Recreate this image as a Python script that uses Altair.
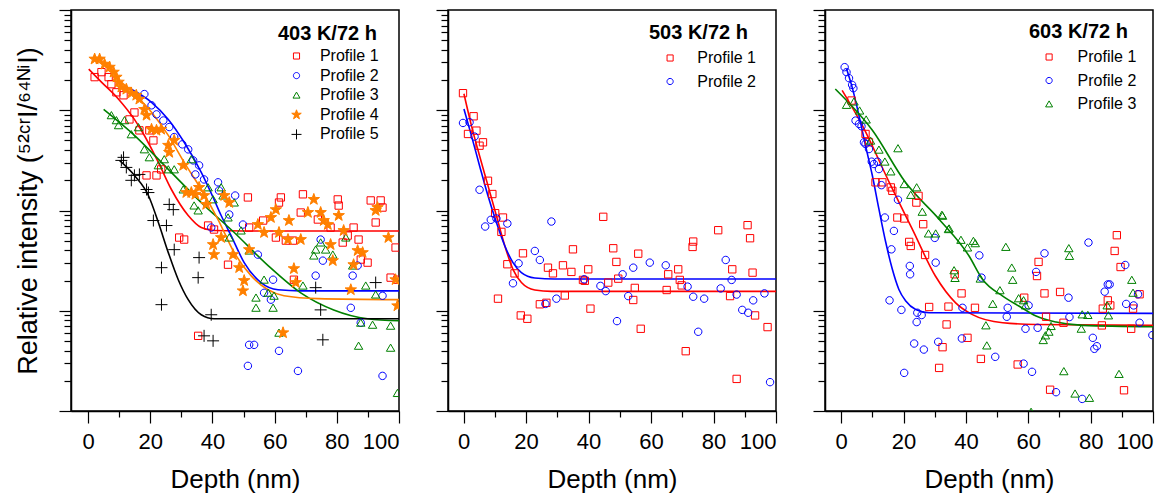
import altair as alt
import pandas as pd

# ---------------- data ----------------
# 403 K / 72 h
a_p1_x = [2.1, 4.3, 6.6, 7.5, 9.1, 11.4, 13.3, 14.9, 16.5, 19.7, 21.0, 18.8, 22.0, 23.5, 29.3, 30.9, 35.4, 38.6, 40.5, 45.0, 51.4, 51.8, 56.3, 60.4, 61.4, 62.0, 63.6, 65.9, 66.2, 69.1, 68.4, 73.9, 78.0, 80.3, 80.6, 81.9, 83.5, 85.4, 87.0, 87.7, 89.9, 90.9, 92.5, 94.1, 94.7, 97.3, 98.9, 99.5]
a_p1_y = [2.14, 2.40, 2.14, 1.82, 1.51, 1.41, 0.81, 0.95, 0.63, 0.63, 0.50, 0.224, 0.224, 0.257, 0.0537, 0.0513, 0.00562, 0.0708, 0.0646, 0.0288, 0.135, 0.0676, 0.0794, 0.0537, 0.120, 0.135, 0.0501, 0.0501, 0.0204, 0.145, 0.0955, 0.0813, 0.0676, 0.129, 0.112, 0.0479, 0.0562, 0.0676, 0.0513, 0.0324, 0.0302, 0.126, 0.0759, 0.126, 0.107, 0.0214, 0.0427, 0.0204]
a_p2_x = [18.1, 20.4, 22.0, 24.2, 26.1, 27.7, 30.3, 32.2, 33.8, 35.7, 34.5, 37.3, 41.8, 42.1, 47.3, 45.4, 39.6, 49.8, 54.6, 59.5, 56.6, 58.8, 74.8, 75.5, 73.2, 85.1, 86.7, 84.5, 87.7, 94.7, 51.8, 53.4, 51.4, 61.4, 67.5, 94.7]
a_p2_y = [1.45, 1.12, 0.91, 0.79, 0.68, 0.54, 0.457, 0.407, 0.316, 0.282, 0.229, 0.204, 0.191, 0.158, 0.141, 0.0912, 0.0676, 0.0724, 0.0363, 0.0204, 0.0151, 0.0129, 0.0513, 0.0316, 0.0224, 0.0224, 0.0282, 0.0107, 0.00759, 0.0141, 0.00457, 0.00457, 0.00282, 0.00398, 0.00251, 0.00224]
a_p3_x = [7.5, 9.1, 9.8, 11.7, 13.9, 16.2, 18.1, 19.7, 22.6, 24.5, 25.8, 27.7, 30.6, 33.2, 34.1, 35.4, 38.6, 40.2, 42.8, 43.4, 45.0, 47.0, 45.4, 49.2, 51.8, 56.6, 54.0, 54.0, 59.5, 57.9, 59.8, 69.1, 61.4, 72.6, 73.2, 74.8, 76.4, 78.7, 82.9, 85.1, 87.7, 89.3, 91.5, 92.5, 87.0, 97.3, 97.3, 99.5]
a_p3_y = [0.891, 0.794, 0.708, 0.794, 0.575, 0.676, 0.407, 0.339, 0.282, 0.324, 0.257, 0.257, 0.162, 0.324, 0.112, 0.100, 0.170, 0.129, 0.170, 0.141, 0.0851, 0.120, 0.0537, 0.0631, 0.0398, 0.0204, 0.0135, 0.0107, 0.0107, 0.0151, 0.0141, 0.0178, 0.00603, 0.0355, 0.0407, 0.0479, 0.0407, 0.0363, 0.0537, 0.0282, 0.00759, 0.0178, 0.00724, 0.0145, 0.00447, 0.00708, 0.00427, 0.00151]
a_p4_x = [2.1, 3.7, 5.3, 6.9, 8.2, 9.1, 9.8, 10.7, 12.3, 13.9, 15.5, 16.5, 18.1, 18.8, 20.4, 22.0, 23.5, 25.8, 26.1, 27.7, 30.6, 31.6, 33.2, 34.5, 35.7, 37.3, 38.0, 40.2, 40.5, 42.8, 43.8, 45.4, 46.6, 48.6, 50.2, 49.8, 51.8, 54.6, 56.6, 58.8, 60.4, 61.4, 64.3, 64.6, 66.2, 66.8, 68.4, 70.7, 72.6, 74.8, 75.8, 77.1, 78.0, 78.7, 80.6, 82.2, 84.5, 85.4, 86.7, 88.3, 92.5, 93.1, 96.6, 99.5, 98.9, 62.7]
a_p4_y = [3.24, 3.24, 2.88, 2.69, 2.40, 2.14, 1.91, 1.70, 1.62, 1.48, 1.41, 1.29, 1.02, 0.891, 0.646, 0.631, 0.646, 0.447, 0.380, 0.501, 0.282, 0.151, 0.151, 0.145, 0.170, 0.141, 0.115, 0.0457, 0.0363, 0.0537, 0.141, 0.120, 0.0363, 0.0269, 0.0200, 0.0158, 0.0407, 0.0724, 0.0603, 0.0851, 0.102, 0.0603, 0.0513, 0.0794, 0.0263, 0.0191, 0.0513, 0.0955, 0.129, 0.0955, 0.0794, 0.0724, 0.0457, 0.0316, 0.0891, 0.0631, 0.0162, 0.0288, 0.0398, 0.0380, 0.100, 0.107, 0.0537, 0.0112, 0.0204, 0.00603]
a_p5_x = [11.4, 10.7, 12.3, 13.9, 14.9, 16.5, 18.8, 19.4, 21.0, 25.2, 26.1, 27.4, 27.7, 23.6, 23.6, 35.7, 35.4, 37.3, 39.6, 40.2, 73.2, 74.8, 75.5, 92.5]
a_p5_y = [0.339, 0.316, 0.269, 0.200, 0.224, 0.229, 0.162, 0.151, 0.0794, 0.0708, 0.115, 0.102, 0.0407, 0.0269, 0.0115, 0.0339, 0.0214, 0.00562, 0.00912, 0.00501, 0.0170, 0.0102, 0.00513, 0.0191]

a_f1_x = [0.2, 4.3, 9.8, 14.9, 18.1, 22.6, 26.8, 32.2, 36.4, 40.5, 50.0, 100]
a_f1_y = [2.57, 1.91, 1.29, 0.81, 0.56, 0.302, 0.162, 0.0891, 0.0676, 0.0631, 0.0625, 0.0624]
a_f2_x = [13.9, 20.4, 25.8, 30.9, 36.4, 40.5, 42.8, 46.0, 50.2, 55.6, 61.1, 68.4, 100]
a_f2_y = [1.62, 1.20, 0.81, 0.479, 0.240, 0.129, 0.0891, 0.0562, 0.0302, 0.0191, 0.0162, 0.0158, 0.0158]
a_f3_x = [5.0, 14.9, 25.8, 36.4, 47.0, 57.9, 68.4, 79.0, 89.9, 100]
a_f3_y = [1.02, 0.562, 0.257, 0.120, 0.0603, 0.0282, 0.0151, 0.0102, 0.00832, 0.00794]
a_f4_x = [10.7, 20.4, 25.8, 30.9, 36.4, 41.8, 47.0, 52.4, 57.9, 63.0, 73.9, 100]
a_f4_y = [1.91, 0.955, 0.562, 0.302, 0.162, 0.0813, 0.0380, 0.0224, 0.0162, 0.0141, 0.0132, 0.0129]
a_f5_x = [10.1, 14.9, 19.4, 22.6, 25.8, 29.0, 32.2, 36.4, 40.5, 47.0, 100]
a_f5_y = [0.316, 0.224, 0.141, 0.0759, 0.0380, 0.0204, 0.0129, 0.00912, 0.00832, 0.00832, 0.00832]

# 503 K / 72 h
b_p1_x = [-0.2, 3.2, 4.1, 1.4, 5.1, 6.2, 7.8, 9.2, 10.1, 12.6, 12.1, 14.0, 16.3, 19.0, 11.0, 18.3, 20.4, 24.4, 26.5, 27.0, 28.6, 31.8, 32.4, 34.5, 35.0, 38.2, 38.8, 39.9, 40.6, 44.7, 46.3, 47.9, 48.9, 49.5, 54.3, 54.8, 55.9, 56.7, 65.0, 65.5, 68.7, 69.2, 69.8, 71.1, 73.3, 73.5, 81.5, 85.3, 86.0, 87.4, 90.9, 91.7, 92.5, 93.3, 97.3]
b_p1_y = [1.48, 0.871, 0.626, 0.580, 0.443, 0.479, 0.198, 0.146, 0.094, 0.0851, 0.0612, 0.0291, 0.0236, 0.0374, 0.0132, 0.00898, 0.00832, 0.0116, 0.0120, 0.0269, 0.0236, 0.0284, 0.0142, 0.0244, 0.0410, 0.0203, 0.0199, 0.0259, 0.0105, 0.0865, 0.0191, 0.0420, 0.0307, 0.0209, 0.0128, 0.0169, 0.0371, 0.00661, 0.0161, 0.0231, 0.0259, 0.0203, 0.0179, 0.00395, 0.0433, 0.0490, 0.0636, 0.0140, 0.0259, 0.00209, 0.0714, 0.0529, 0.0240, 0.00898, 0.00687]
b_p2_x = [-0.2, 1.9, 3.5, 5.1, 6.9, 8.7, 10.5, 14.0, 15.8, 17.6, 22.8, 24.4, 26.2, 28.1, 29.7, 38.6, 43.8, 45.5, 49.1, 50.9, 52.7, 54.3, 59.6, 64.7, 71.7, 73.5, 75.1, 77.0, 82.3, 83.9, 85.8, 87.4, 89.2, 91.1, 92.7, 96.3, 98.1]
b_p2_y = [0.747, 0.759, 0.546, 0.161, 0.0692, 0.0807, 0.0832, 0.0741, 0.0188, 0.0297, 0.0395, 0.0321, 0.0117, 0.0776, 0.0132, 0.0206, 0.0177, 0.0157, 0.00788, 0.0231, 0.0140, 0.0269, 0.0302, 0.0284, 0.0174, 0.0138, 0.00617, 0.0132, 0.0167, 0.0321, 0.0203, 0.0145, 0.0102, 0.00955, 0.0127, 0.0149, 0.00194]
b_f1_x = [0.1, 2.5, 5.1, 7.8, 10.5, 13.2, 15.8, 18.5, 22.8, 28.1, 100]
b_f1_y = [1.46, 0.703, 0.352, 0.177, 0.0885, 0.0443, 0.0259, 0.0191, 0.0161, 0.0156, 0.0156]
b_f2_x = [0.1, 2.5, 5.1, 7.8, 10.5, 13.2, 15.8, 18.5, 22.8, 29.2, 100]
b_f2_y = [1.03, 0.558, 0.280, 0.140, 0.0759, 0.0443, 0.0302, 0.0240, 0.0212, 0.0207, 0.0207]

# 603 K / 72 h
c_p1_x = [3.3, 7.8, 8.9, 11.0, 13.2, 15.9, 16.4, 18.0, 20.2, 21.8, 22.3, 24.1, 24.8, 26.3, 26.9, 28.2, 31.4, 32.5, 33.8, 34.4, 36.4, 38.6, 40.5, 42.9, 44.8, 56.6, 58.7, 62.8, 63.3, 65.2, 65.7, 67.0, 70.2, 71.3, 83.6, 83.9, 85.5, 86.3, 87.7, 88.4, 89.6, 90.7, 93.0, 93.6, 95.7]
c_p1_y = [1.25, 0.580, 0.479, 0.191, 0.191, 0.170, 0.157, 0.0851, 0.0832, 0.0486, 0.0443, 0.120, 0.140, 0.0730, 0.0360, 0.0109, 0.00269, 0.00433, 0.00730, 0.0110, 0.0231, 0.0149, 0.00537, 0.0107, 0.00331, 0.00291, 0.0135, 0.0222, 0.0307, 0.0149, 0.00871, 0.00163, 0.0154, 0.00759, 0.00714, 0.0105, 0.0127, 0.0113, 0.0395, 0.0567, 0.0273, 0.00161, 0.00661, 0.0105, 0.0146]
c_p2_x = [1.1, 1.7, 2.5, 3.5, 3.9, 4.6, 5.7, 6.5, 7.3, 7.8, 8.9, 9.8, 10.5, 11.6, 12.1, 12.9, 14.0, 16.9, 16.1, 18.2, 15.5, 19.3, 20.2, 22.0, 22.1, 24.2, 24.4, 25.8, 23.4, 26.5, 30.0, 30.3, 31.1, 38.7, 38.9, 44.3, 45.0, 49.4, 53.1, 53.4, 58.5, 59.1, 60.1, 61.2, 62.5, 63.0, 65.2, 68.9, 72.9, 73.2, 77.3, 79.3, 80.7, 81.2, 82.0, 84.5, 85.5, 86.1, 91.1, 91.4, 93.8, 95.2, 95.7, 99.8]
c_p2_y = [2.69, 2.40, 2.09, 1.79, 1.66, 0.788, 0.730, 0.692, 0.479, 0.461, 0.410, 0.307, 0.291, 0.307, 0.259, 0.179, 0.0851, 0.0626, 0.0410, 0.128, 0.0127, 0.0102, 0.00240, 0.0280, 0.0231, 0.00771, 0.00955, 0.00906, 0.00471, 0.00410, 0.0533, 0.0302, 0.00490, 0.00529, 0.0107, 0.0357, 0.0214, 0.00347, 0.00871, 0.0107, 0.00297, 0.00661, 0.0113, 0.00246, 0.0244, 0.00676, 0.0374, 0.00154, 0.0135, 0.00865, 0.00132, 0.0479, 0.00537, 0.00417, 0.00443, 0.0155, 0.0183, 0.0183, 0.0286, 0.0117, 0.0113, 0.0146, 0.00759, 0.00571]
c_p3_x = [1.7, 4.1, 5.9, 8.0, 9.4, 12.1, 14.0, 15.9, 18.2, 20.2, 22.3, 24.2, 26.0, 28.0, 30.3, 32.3, 32.5, 34.4, 34.6, 36.2, 36.5, 38.4, 40.5, 42.4, 43.0, 44.6, 46.4, 46.7, 48.6, 50.9, 52.8, 54.7, 55.0, 56.9, 58.5, 59.1, 60.9, 64.8, 65.5, 66.6, 67.3, 71.4, 73.0, 73.2, 75.0, 77.3, 77.0, 79.1, 79.6, 85.3, 85.7, 89.1, 93.2, 93.6]
c_p3_y = [1.13, 1.22, 0.992, 0.807, 0.497, 0.404, 0.307, 0.245, 0.417, 0.183, 0.143, 0.170, 0.0970, 0.0589, 0.0589, 0.0905, 0.0885, 0.0651, 0.0661, 0.0253, 0.0212, 0.0509, 0.0427, 0.0497, 0.0471, 0.0209, 0.00714, 0.00450, 0.0117, 0.0160, 0.0433, 0.0269, 0.0203, 0.0133, 0.0127, 0.0113, 0.00098, 0.00509, 0.00567, 0.00617, 0.00703, 0.00249, 0.0420, 0.0352, 0.00149, 0.00919, 0.00661, 0.00906, 0.00135, 0.0113, 0.00898, 0.00234, 0.0203, 0.0151]
c_f1_x = [0.3, 6.8, 15.4, 22.8, 30.2, 36.7, 42.1, 51.8, 62.5, 100]
c_f1_y = [1.58, 0.703, 0.191, 0.0651, 0.0222, 0.0120, 0.00915, 0.00759, 0.00730, 0.00714]
c_f2_x = [1.7, 3.5, 5.7, 7.8, 10.0, 12.1, 14.3, 16.4, 18.5, 20.7, 23.9, 28.2, 100]
c_f2_y = [2.59, 1.70, 0.885, 0.443, 0.222, 0.103, 0.0479, 0.0259, 0.0163, 0.0125, 0.0103, 0.00955, 0.00941]
c_f3_x = [-1.9, 10.0, 20.6, 31.4, 41.0, 45.3, 51.8, 57.1, 62.5, 68.9, 77.5, 100]
c_f3_y = [1.63, 0.631, 0.191, 0.0819, 0.0352, 0.0206, 0.0140, 0.0111, 0.00885, 0.00771, 0.00714, 0.00692]

PROFILES = ["Profile 1", "Profile 2", "Profile 3", "Profile 4", "Profile 5"]
FITS = ["Fit 1", "Fit 2", "Fit 3", "Fit 4", "Fit 5"]
POINT_STROKE = ["#FF0000", "#0000FF", "#008000", "#FF8000", "#000000"]
POINT_FILL = ["transparent", "transparent", "transparent", "#FF8000", "transparent"]
LINE_COLORS = ["#FF0000", "#0000FF", "#008000", "#FF8000", "#000000"]
SHAPES = [
    "M-0.61,-0.61H0.61V0.61H-0.61Z",
    "M0.62,0A0.62,0.62 0 1,1 -0.62,0A0.62,0.62 0 1,1 0.62,0Z",
    "M0,-0.62L0.7,0.58L-0.7,0.58Z",
    "M0,-1L0.235,-0.324L0.951,-0.309L0.38,0.124L0.588,0.809L0,0.4L-0.588,0.809L-0.38,0.124L-0.951,-0.309L-0.235,-0.324Z",
    "M-1,0H1M0,-1V1",
]

FONT = "Liberation Sans"


def frame(xs, ys, names):
    rows = []
    for x, y, n in zip(xs, ys, names):
        for a, b in zip(x, y):
            rows.append({"depth": a, "intensity": b, "profile": n})
    return pd.DataFrame(rows)


MAJ_X = "datum.value % 20 === 0"
MAJ_Y = "abs(log(datum.value) / LN10 - round(log(datum.value) / LN10)) < 0.000001"
Y_TICKS = [round(d * k, 6) for d in [0.001, 0.01, 0.1, 1] for k in range(1, 10)] + [10]


def panel(pts, fits, n, title, xmin, lx, ly, row_pad, sym_off, lab_off, t_pad, ytitle):
    doms = PROFILES[:n]
    x = alt.X("depth:Q",
              scale=alt.Scale(domain=[xmin, 100], nice=False, zero=False),
              axis=alt.Axis(values=list(range(0, 101, 10)), title="Depth (nm)", grid=False,
                            tickSize={"condition": {"test": MAJ_X, "value": 12}, "value": 6},
                            labelExpr=MAJ_X + " ? datum.label : ''",
                            labelFontSize=22, labelPadding=8, titleFontSize=26,
                            titleFontWeight="normal", titlePadding=14))
    yaxis = dict(values=Y_TICKS, labels=False, grid=False,
                 tickSize={"condition": {"test": MAJ_Y, "value": 12}, "value": 7})
    if ytitle:
        yaxis.update(title="Relative intensity (⁵²ᶜʳI/⁶⁴ᴺⁱI)", titleFontSize=27,
                     titleFontWeight="normal", titlePadding=16)
    else:
        yaxis.update(title=None)
    y = alt.Y("intensity:Q", scale=alt.Scale(type="log", domain=[0.001, 10], nice=False),
              axis=alt.Axis(**yaxis))
    leg = alt.Legend(title=title, orient="none", legendX=lx, legendY=ly, padding=0,
                     titleFontSize=20, titleFontWeight="bold", titleColor="black",
                     titleFont=FONT, titleAnchor="start", titlePadding=t_pad,
                     labelFontSize=16, labelColor="black", labelFont=FONT,
                     symbolStrokeWidth=1, rowPadding=row_pad,
                     symbolOffset=sym_off, labelOffset=lab_off)
    lines = alt.Chart(fits).mark_line(strokeWidth=1.6, interpolate="monotone", clip=True).encode(
        x=x, y=y,
        color=alt.Color("profile:N", scale=alt.Scale(domain=FITS[:n], range=LINE_COLORS[:n]), legend=None),
    )
    points = alt.Chart(pts).mark_point(filled=True, size=144, strokeWidth=1, opacity=1, clip=True).encode(
        x=x, y=y,
        shape=alt.Shape("profile:N", scale=alt.Scale(domain=doms, range=SHAPES[:n]), legend=leg),
        stroke=alt.Stroke("profile:N", scale=alt.Scale(domain=doms, range=POINT_STROKE[:n]), legend=leg),
        fill=alt.Fill("profile:N", scale=alt.Scale(domain=doms, range=POINT_FILL[:n]), legend=leg),
    )
    return alt.layer(lines, points).properties(width=328, height=401)


a_pts = frame([a_p1_x, a_p2_x, a_p3_x, a_p4_x, a_p5_x], [a_p1_y, a_p2_y, a_p3_y, a_p4_y, a_p5_y], PROFILES)
a_fit = frame([a_f1_x, a_f2_x, a_f3_x, a_f4_x, a_f5_x], [a_f1_y, a_f2_y, a_f3_y, a_f4_y, a_f5_y], FITS)
b_pts = frame([b_p1_x, b_p2_x], [b_p1_y, b_p2_y], PROFILES[:2])
b_fit = frame([b_f1_x, b_f2_x], [b_f1_y, b_f2_y], FITS[:2])
c_pts = frame([c_p1_x, c_p2_x, c_p3_x], [c_p1_y, c_p2_y, c_p3_y], PROFILES[:3])
c_fit = frame([c_f1_x, c_f2_x, c_f3_x], [c_f1_y, c_f2_y, c_f3_y], FITS[:3])

p1 = panel(a_pts, a_fit, 5, "403 K/72 h", -5.5, 207, 14, 3.6, 10.5, 15.4, 4, True)
p2 = panel(b_pts, b_fit, 2, "503 K/72 h", -5, 201, 12.5, 7.5, 13.1, 19.2, 7.5, False)
p3 = panel(c_pts, c_fit, 3, "603 K/72 h", -5.2, 204, 12, 7.5, 12.1, 20.5, 7, False)

chart = alt.hconcat(p1, p2, p3, spacing=49, bounds="flush").resolve_scale(
    x="independent", y="independent", color="independent", shape="independent",
    stroke="independent", fill="independent"
).resolve_legend(
    shape="independent", stroke="independent", fill="independent", color="independent"
).properties(
    padding={"left": 13, "top": 8, "right": 5, "bottom": 5},
    background="white",
).configure(font=FONT).configure_view(
    stroke="black", strokeWidth=1.5
).configure_axis(
    domainColor="black", domainWidth=1.5, tickColor="black", tickWidth=1.2,
    labelColor="black", titleColor="black", labelFont=FONT, titleFont=FONT
)

chart.save("out.html", embed_options={"renderer": "svg", "actions": False})
